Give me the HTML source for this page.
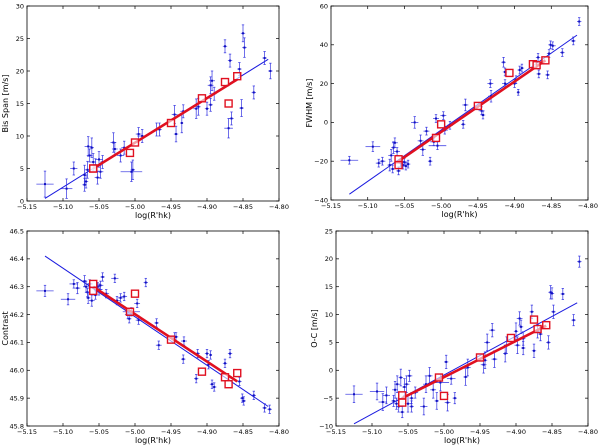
<!DOCTYPE html>
<html><head><meta charset="utf-8"><style>
html,body{margin:0;padding:0;background:#fff;width:600px;height:446px;overflow:hidden}
svg{display:block;font-family:"DejaVu Sans","Liberation Sans",sans-serif}
</style></head><body>
<svg id="chart" width="600" height="446" viewBox="0 0 600 446" xmlns="http://www.w3.org/2000/svg"></svg>
<script>
// x tick labels (shared)
const xTicks = [-5.15,-5.10,-5.05,-5.00,-4.95,-4.90,-4.85,-4.80];
const sqX = [-5.058,-5.058,-5.007,-5.000,-4.950,-4.907,-4.875,-4.870,-4.858];

// Panel 1: Bis Span
const p1X = [-5.125,-5.095,-5.085,-5.07,-5.068,-5.065,-5.063,-5.06,-5.058,-5.055,-5.052,-5.05,-5.048,-5.045,-5.07,-5.066,-5.03,-5.028,-5.02,-5.015,-5.005,-5.003,-4.995,-4.99,-4.97,-4.966,-4.945,-4.943,-4.935,-4.933,-4.915,-4.912,-4.9,-4.895,-4.893,-4.895,-4.89,-4.875,-4.868,-4.87,-4.866,-4.855,-4.852,-4.85,-4.848,-4.835,-4.82,-4.812];
const p1Y = [2.6,1.9,5,4,3,8.4,7,8.2,6,5.5,3.6,6.4,4.5,6,2.5,4.8,9,8,7,8.2,4.5,4.8,10.3,10,11,11,13.3,10.3,12,13.8,14.2,14.5,14.2,17.8,18.5,14.8,16.5,23.8,21.6,11.2,12.7,20.3,14.3,25.8,23.6,16.7,22,20];
const p1Xe = [0.012,0.008,0.005,0.003,0.003,0.005,0.004,0.003,0.004,0.005,0.004,0.005,0.004,0.003,0.003,0.004,0.004,0.004,0.005,0.004,0.015,0.003,0.004,0.007,0.003,0.003,0.004,0.003,0.002,0.004,0.004,0.003,0.003,0.004,0.004,0.003,0.003,0.003,0.003,0.006,0.003,0.003,0.003,0.003,0.003,0.003,0.003,0.003];
const p1Ye = [2,1.5,1,1.5,1,1.5,1,1.5,1.3,1,1,1.2,1,1,1,1.3,1.5,1,1,1,1.5,1.5,1,1,1,1,1.4,1.2,1.5,1,1.5,1.3,1,1.3,1.5,1,1,1,1,1.5,1,1,1.3,1.3,1.5,1,1,1.2];
const p1SqY = [5,5,7.4,9,12,15.8,18.3,15,19.2];
const p1Fit = [[-5.125,0.4],[-4.815,21.8]];
const p1Red = [[-5.058,5],[-4.858,18.7]];
const p1YTicks = [0,5,10,15,20,25,30];

// Panel 2: FWHM
const p2X = [-5.125,-5.093,-5.085,-5.08,-5.07,-5.068,-5.066,-5.065,-5.063,-5.06,-5.055,-5.052,-5.05,-5.048,-5.045,-5.058,-5.036,-5.028,-5.025,-5.02,-5.015,-5.01,-5.007,-5.005,-4.997,-4.995,-4.988,-4.97,-4.967,-4.945,-4.943,-4.933,-4.932,-4.915,-4.913,-4.913,-4.9,-4.898,-4.895,-4.893,-4.89,-4.868,-4.867,-4.855,-4.851,-4.848,-4.853,-4.835,-4.82,-4.812];
const p2Y = [-19.5,-12.5,-21,-20,-22,-17,-24,-13,-10.5,-15,-21,-22,-20.5,-22.5,-21.5,-25,0,-9.5,-14,-4.5,-20,-10,2,-12,3.5,-4,-1.5,-1,9,6,3.8,20,13.5,31,26,20,20,22,15.5,27,28,33.5,25,24.5,40,39.5,35.5,36,42,52];
const p2Xe = [0.012,0.01,0.004,0.004,0.003,0.004,0.003,0.003,0.004,0.004,0.003,0.004,0.005,0.004,0.003,0.003,0.005,0.004,0.004,0.004,0.003,0.005,0.004,0.012,0.004,0.004,0.004,0.003,0.004,0.004,0.003,0.004,0.004,0.003,0.003,0.004,0.003,0.004,0.002,0.003,0.003,0.003,0.003,0.003,0.003,0.004,0.003,0.003,0.003,0.003];
const p2Ye = [2,2.5,2,2,3,3,2,3,2.5,2,2,2,2,2,2,2,3,3,3,2,2,2,2,2,2,2,2,2,3,2,2,2,3,2.5,2,2,2,2,1.5,2,2,2,2,2,2,2,2,2,2,2];
const p2SqY = [-19,-22,-8,-1,8.5,25.5,30,29.5,32];
const p2Fit = [[-5.125,-37],[-4.815,45]];
const p2Red = [[-5.058,-20],[-4.858,32]];
const p2YTicks = [-40,-20,0,20,40,60];

// Panel 3: Contrast
const p3X = [-5.125,-5.093,-5.085,-5.08,-5.07,-5.068,-5.066,-5.065,-5.063,-5.06,-5.055,-5.052,-5.05,-5.048,-5.045,-5.04,-5.028,-5.025,-5.02,-5.015,-5.01,-5.008,-5.005,-4.997,-4.995,-4.985,-4.97,-4.967,-4.945,-4.943,-4.933,-4.932,-4.915,-4.913,-4.9,-4.898,-4.895,-4.893,-4.89,-4.875,-4.868,-4.855,-4.851,-4.849,-4.835,-4.82,-4.813];
const p3Y = [46.285,46.255,46.31,46.295,46.32,46.3,46.28,46.26,46.31,46.25,46.27,46.3,46.29,46.305,46.335,46.275,46.33,46.25,46.26,46.265,46.2,46.185,46.21,46.24,46.18,46.315,46.17,46.09,46.12,46.12,46.04,46.105,45.97,46.06,46.06,46.02,46.055,45.95,45.94,46.025,46.06,45.96,45.9,45.89,45.91,45.865,45.86];
const p3Xe = [0.012,0.01,0.006,0.004,0.003,0.004,0.003,0.003,0.004,0.004,0.003,0.004,0.005,0.004,0.003,0.004,0.005,0.004,0.004,0.004,0.004,0.003,0.012,0.004,0.004,0.003,0.003,0.004,0.004,0.003,0.003,0.004,0.003,0.003,0.003,0.004,0.002,0.003,0.003,0.003,0.003,0.003,0.003,0.003,0.003,0.003,0.003];
const p3Ye = [0.02,0.02,0.015,0.02,0.02,0.02,0.015,0.02,0.015,0.02,0.015,0.015,0.02,0.015,0.015,0.015,0.015,0.015,0.015,0.015,0.015,0.015,0.015,0.015,0.015,0.015,0.015,0.015,0.015,0.015,0.015,0.015,0.015,0.015,0.015,0.015,0.015,0.015,0.015,0.015,0.015,0.015,0.015,0.015,0.015,0.015,0.015];
const p3SqY = [46.31,46.285,46.21,46.275,46.11,45.995,45.975,45.95,45.99];
const p3Fit = [[-5.125,46.41],[-4.815,45.87]];
const p3Red = [[-5.058,46.3],[-4.858,45.96]];
const p3YTicks = [45.8,45.9,46.0,46.1,46.2,46.3,46.4,46.5];

// Panel 4: O-C
const p4X = [-5.125,-5.093,-5.085,-5.08,-5.07,-5.068,-5.066,-5.065,-5.063,-5.06,-5.058,-5.055,-5.052,-5.05,-5.048,-5.045,-5.045,-5.04,-5.028,-5.025,-5.02,-5.015,-5.01,-5.005,-4.997,-4.995,-4.99,-4.985,-4.97,-4.967,-4.945,-4.943,-4.94,-4.933,-4.93,-4.915,-4.913,-4.9,-4.898,-4.895,-4.893,-4.89,-4.89,-4.878,-4.875,-4.87,-4.866,-4.855,-4.852,-4.85,-4.848,-4.835,-4.82,-4.812];
const p4Y = [-4.3,-3.8,-5.7,-4.5,-5.5,-3.5,-6,-2.5,-6.5,-1.3,-7.5,-3,-2.5,-6,-1,-5,-6.5,-4,-6.5,-2.5,-1,-3.5,-5.5,-2.2,1.5,-5.8,-1.5,-5,-1.2,0.5,1,1.8,5,7.2,2,3,4.5,7,4.5,9.3,7.8,4,5.7,10.5,3.5,7,6.5,5,14,13.8,10.5,13.7,9,19.5];
const p4Xe = [0.012,0.01,0.006,0.005,0.003,0.004,0.003,0.004,0.004,0.003,0.003,0.003,0.004,0.005,0.004,0.003,0.003,0.004,0.005,0.004,0.004,0.004,0.003,0.012,0.003,0.004,0.006,0.003,0.003,0.004,0.004,0.003,0.004,0.004,0.004,0.003,0.004,0.003,0.004,0.004,0.003,0.003,0.003,0.003,0.003,0.003,0.003,0.003,0.003,0.003,0.003,0.003,0.003,0.003];
const p4Ye = [1.5,1.5,1.5,1.5,1,1.5,1,1.5,1,1.5,1,1.5,1.5,1.5,1,1,1,1,1.5,1.5,1.5,1.5,1.5,1.5,1.2,1.5,1,1,1.5,1.5,1.5,1.5,1.5,1.2,1.5,1.5,1.5,1.5,1.5,1.2,1.2,1.2,1.2,1.2,1.2,1.2,1.2,1.2,1.2,1,1.2,1,1,1];
const p4SqY = [-4.5,-5.8,-1.3,-4.6,2.3,5.8,9.1,7.4,8.1];
const p4Fit = [[-5.125,-9.6],[-4.815,12.1]];
const p4Red = [[-5.058,-5],[-4.858,8]];
const p4YTicks = [-10,-5,0,5,10,15,20,25];

const NS = "http://www.w3.org/2000/svg";
const svg = document.getElementById('chart');
function mk(tag, attrs, parent){const e=document.createElementNS(NS,tag);for(const k in attrs)e.setAttribute(k,attrs[k]);parent.appendChild(e);return e;}

const panels = [
 {name:'bis-span',L:27,R:279,T:6,B:201,ymin:0,ymax:30,yt:p1YTicks,dec:0,lab:'Bis Span [m/s]',x:p1X,y:p1Y,xe:p1Xe,ye:p1Ye,sq:p1SqY,fit:p1Fit,red:p1Red},
 {name:'fwhm',L:331,R:588,T:6,B:200,ymin:-40,ymax:60,yt:p2YTicks,dec:0,lab:'FWHM [m/s]',x:p2X,y:p2Y,xe:p2Xe,ye:p2Ye,sq:p2SqY,fit:p2Fit,red:p2Red},
 {name:'contrast',L:27,R:279,T:231,B:426,ymin:45.8,ymax:46.5,yt:p3YTicks,dec:1,lab:'Contrast',x:p3X,y:p3Y,xe:p3Xe,ye:p3Ye,sq:p3SqY,fit:p3Fit,red:p3Red},
 {name:'o-c',L:336,R:588,T:231,B:426,ymin:-10,ymax:25,yt:p4YTicks,dec:0,lab:'O-C [m/s]',x:p4X,y:p4Y,xe:p4Xe,ye:p4Ye,sq:p4SqY,fit:p4Fit,red:p4Red}
];

panels.forEach(p=>{
  const g = mk('g',{},svg);
  
  
  const sx = v => p.L + (v - (-5.15)) / 0.35 * (p.R - p.L);
  const sy = v => p.B - (v - p.ymin) / (p.ymax - p.ymin) * (p.B - p.T);
  // fit line
  const fl = mk('line',{x1:sx(p.fit[0][0]),y1:sy(p.fit[0][1]),x2:sx(p.fit[1][0]),y2:sy(p.fit[1][1]),stroke:'#1a1adf','stroke-width':1},g);
  
  
  // points
  for(let i=0;i<p.x.length;i++){
    const cx=sx(p.x[i]), cy=sy(p.y[i]);
    const pg = mk('g',{stroke:'#2a2ae0','stroke-width':0.8,'stroke-opacity':0.85},g);
    
    
    mk('line',{x1:sx(p.x[i]-p.xe[i]),y1:cy,x2:sx(p.x[i]+p.xe[i]),y2:cy},pg);
    mk('line',{x1:cx,y1:sy(p.y[i]-p.ye[i]),x2:cx,y2:sy(p.y[i]+p.ye[i])},pg);
    mk('line',{x1:cx-1.2,y1:sy(p.y[i]-p.ye[i]),x2:cx+1.2,y2:sy(p.y[i]-p.ye[i])},pg);
    mk('line',{x1:cx-1.2,y1:sy(p.y[i]+p.ye[i]),x2:cx+1.2,y2:sy(p.y[i]+p.ye[i])},pg);
    mk('rect',{x:cx-1,y:cy-1,width:2,height:2,fill:'#1010c0',stroke:'none'},pg);
  }
  // red line
  const rl = mk('line',{x1:sx(p.red[0][0]),y1:sy(p.red[0][1]),x2:sx(p.red[1][0]),y2:sy(p.red[1][1]),stroke:'#e01020','stroke-width':2.6},g);
  
  
  for(let i=0;i<sqX.length;i++){
    const s = mk('rect',{x:sx(sqX[i])-3.5,y:sy(p.sq[i])-3.5,width:7,height:7,fill:'#fff','fill-opacity':0.6,stroke:'#e01020','stroke-width':1.4},g);
    
    
  }
  // frame
  const fr = mk('rect',{x:p.L,y:p.T,width:p.R-p.L,height:p.B-p.T,fill:'none',stroke:'#000','stroke-width':0.8},g);
  
  
  // x ticks
  xTicks.forEach(t=>{
    const x=sx(t);
    mk('line',{x1:x,y1:p.B,x2:x,y2:p.B-3,stroke:'#000','stroke-width':0.7},g);
    mk('line',{x1:x,y1:p.T,x2:x,y2:p.T+3,stroke:'#000','stroke-width':0.7},g);
    const tx = mk('text',{x:x,y:p.B+8,'font-size':6.5,'text-anchor':'middle',fill:'#000'},g);
    tx.textContent = '\u2212'+Math.abs(t).toFixed(2);
    
    
  });
  p.yt.forEach(t=>{
    const y=sy(t);
    mk('line',{x1:p.L,y1:y,x2:p.L+3,y2:y,stroke:'#000','stroke-width':0.7},g);
    mk('line',{x1:p.R,y1:y,x2:p.R-3,y2:y,stroke:'#000','stroke-width':0.7},g);
    const ty = mk('text',{x:p.L-3,y:y+2.3,'font-size':6.5,'text-anchor':'end',fill:'#000'},g);
    ty.textContent = (t<0?'\u2212':'')+Math.abs(t).toFixed(p.dec);
    
    
  });
  const xl = mk('text',{x:(p.L+p.R)/2,y:p.B+17,'font-size':8,'text-anchor':'middle',fill:'#000'},g);
  xl.textContent = "log(R'hk)";
  
  
  const yx = p.L-19, ym=(p.T+p.B)/2;
  const yl = mk('text',{x:yx,y:ym,'font-size':8,'text-anchor':'middle',fill:'#000',transform:`rotate(-90 ${yx} ${ym})`},g);
  yl.textContent = p.lab;
  
  
});
</script>
</body></html>
